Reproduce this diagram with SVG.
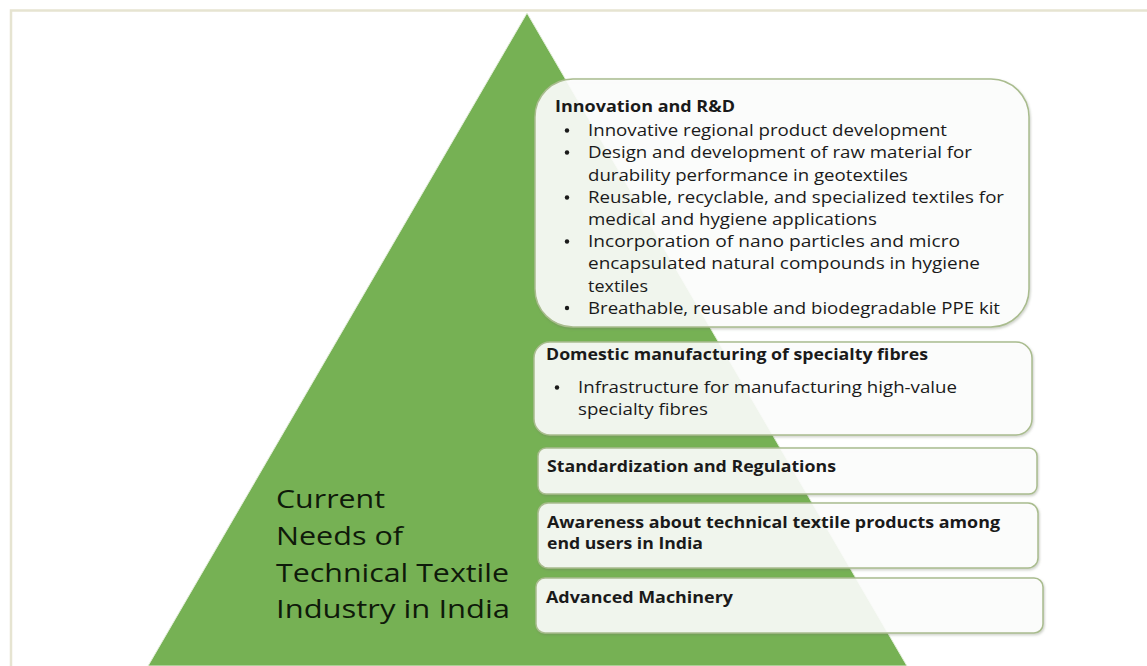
<svg xmlns="http://www.w3.org/2000/svg" width="1147" height="666" viewBox="0 0 1147 666">
<style>
.box{fill:#ffffff;fill-opacity:0.88;stroke:#a9bc8e;stroke-width:1.5;filter:url(#sh)}
.t{font-family:"Open Sans","Liberation Sans",sans-serif;font-size:15.5px;fill:#1a1a1a}
.b{font-family:"Open Sans","Liberation Sans",sans-serif;font-size:15.5px;font-weight:bold;fill:#1a1a1a}
.dot{fill:#1a1a1a}
.big{font-family:"Open Sans","Liberation Sans",sans-serif;font-size:26px;fill:#0f1a0a}
</style>
<defs>
<filter id="sh" x="-5%" y="-5%" width="110%" height="115%">
<feDropShadow dx="1" dy="1.5" stdDeviation="1" flood-color="#6b7560" flood-opacity="0.35"/>
</filter>
</defs>
<rect width="1147" height="666" fill="#ffffff"/>
<path d="M11 666 V10.5 H1147" fill="none" stroke="#e6e4d1" stroke-width="2.5"/>
<g id="pyramid">
<polygon points="527,13 907,666 148,666" fill="#76b154" stroke="#e4eedb" stroke-width="1"/>
<text class="big"><tspan x="276" y="508" textLength="109" lengthAdjust="spacingAndGlyphs">Current</tspan><tspan x="276" y="545" textLength="127" lengthAdjust="spacingAndGlyphs">Needs of</tspan><tspan x="276" y="582" textLength="233" lengthAdjust="spacingAndGlyphs">Technical Textile</tspan><tspan x="276" y="618" textLength="234" lengthAdjust="spacingAndGlyphs">Industry in India</tspan></text>
</g>
<g id="innovation">
<rect class="box" x="535" y="79" width="494" height="248" rx="38"/>
<text class="b" x="555" y="112" textLength="180" lengthAdjust="spacingAndGlyphs">Innovation and R&amp;D</text>
<circle class="dot" cx="567" cy="130.5" r="2.2"/>
<circle class="dot" cx="567" cy="152.5" r="2.2"/>
<circle class="dot" cx="567" cy="197.5" r="2.2"/>
<circle class="dot" cx="567" cy="241.5" r="2.2"/>
<circle class="dot" cx="567" cy="308" r="2.2"/>
<text class="t" x="588" y="136" textLength="359" lengthAdjust="spacingAndGlyphs">Innovative regional product development</text>
<text class="t" x="588" y="158" textLength="384" lengthAdjust="spacingAndGlyphs">Design and development of raw material for</text>
<text class="t" x="588" y="180.5" textLength="320" lengthAdjust="spacingAndGlyphs">durability performance in geotextiles</text>
<text class="t" x="588" y="203" textLength="416" lengthAdjust="spacingAndGlyphs">Reusable, recyclable, and specialized textiles for</text>
<text class="t" x="588" y="225" textLength="289" lengthAdjust="spacingAndGlyphs">medical and hygiene applications</text>
<text class="t" x="588" y="247" textLength="372" lengthAdjust="spacingAndGlyphs">Incorporation of nano particles and micro</text>
<text class="t" x="588" y="269" textLength="392" lengthAdjust="spacingAndGlyphs">encapsulated natural compounds in hygiene</text>
<text class="t" x="588" y="291.5" textLength="60" lengthAdjust="spacingAndGlyphs">textiles</text>
<text class="t" x="588" y="313.5" textLength="412" lengthAdjust="spacingAndGlyphs">Breathable, reusable and biodegradable PPE kit</text>
</g>
<g id="domestic">
<rect class="box" x="534" y="342" width="498" height="93" rx="16"/>
<text class="b" x="546" y="360" textLength="382" lengthAdjust="spacingAndGlyphs">Domestic manufacturing of specialty fibres</text>
<circle class="dot" cx="557" cy="387.5" r="2.2"/>
<text class="t" x="578" y="393" textLength="379" lengthAdjust="spacingAndGlyphs">Infrastructure for manufacturing high-value</text>
<text class="t" x="578" y="415" textLength="130" lengthAdjust="spacingAndGlyphs">specialty fibres</text>
</g>
<g id="standardization">
<rect class="box" x="538" y="448" width="499" height="46" rx="8"/>
<text class="b" x="547" y="472" textLength="289" lengthAdjust="spacingAndGlyphs">Standardization and Regulations</text>
</g>
<g id="awareness">
<rect class="box" x="538" y="503" width="500" height="65" rx="10"/>
<text class="b" x="547" y="528" textLength="453" lengthAdjust="spacingAndGlyphs">Awareness about technical textile products among</text>
<text class="b" x="547" y="549" textLength="156" lengthAdjust="spacingAndGlyphs">end users in India</text>
</g>
<g id="machinery">
<rect class="box" x="536" y="578" width="507" height="55" rx="9"/>
<text class="b" x="546" y="603" textLength="187" lengthAdjust="spacingAndGlyphs">Advanced Machinery</text>
</g>
</svg>
